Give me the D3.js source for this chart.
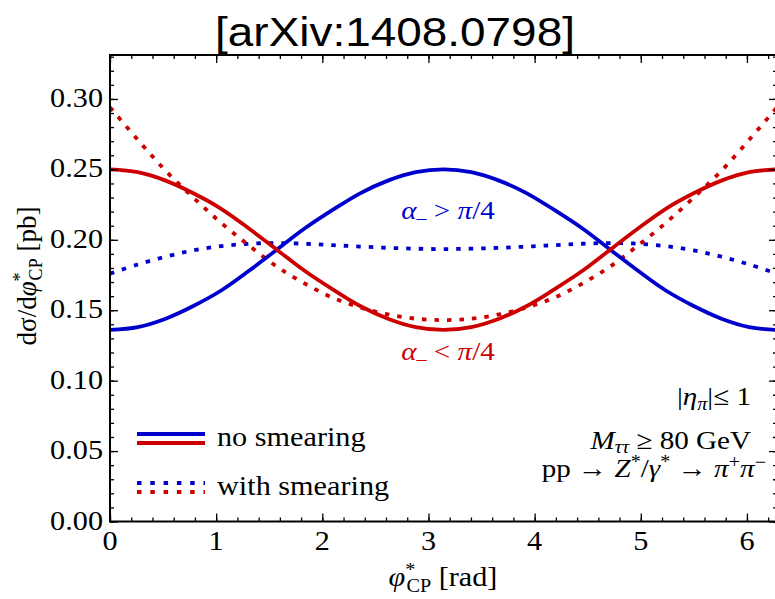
<!DOCTYPE html>
<html>
<head>
<meta charset="utf-8">
<script src="https://cdn.jsdelivr.net/npm/d3@7"></script>
<style>
  html, body { margin: 0; padding: 0; background: #fff; }
  svg { display: block; }
</style>
</head>
<body>
<svg id="chart" width="775" height="599"></svg>
<script>
// Azimuthal angle between decay planes, φ*_CP [rad]
const phi = [0, 0.262, 0.524, 0.785, 1.047, 1.309, 1.571, 1.833, 2.094, 2.356, 2.618, 2.880, 3.142,
             3.403, 3.665, 3.927, 4.189, 4.451, 4.712, 4.974, 5.236, 5.498, 5.760, 6.021, 6.283];

// dσ/dφ*_CP [pb], α− < π/4 (red) and α− > π/4 (blue)
const redNoSmear = [0.250, 0.248, 0.242, 0.233, 0.222, 0.208, 0.193, 0.178, 0.165, 0.153, 0.144, 0.138, 0.136,
                    0.138, 0.144, 0.153, 0.165, 0.178, 0.193, 0.208, 0.222, 0.233, 0.242, 0.248, 0.250];
const blueNoSmear = [0.136, 0.138, 0.144, 0.153, 0.164, 0.178, 0.193, 0.208, 0.221, 0.233, 0.242, 0.248, 0.250,
                     0.248, 0.242, 0.233, 0.221, 0.208, 0.193, 0.178, 0.164, 0.153, 0.144, 0.138, 0.136];
const redSmear = [0.294, 0.271, 0.249, 0.230, 0.212, 0.196, 0.181, 0.169, 0.159, 0.152, 0.147, 0.144, 0.143,
                  0.144, 0.147, 0.152, 0.159, 0.169, 0.181, 0.196, 0.212, 0.230, 0.249, 0.271, 0.294];
const blueSmear = [0.176, 0.1825, 0.188, 0.1925, 0.1955, 0.1972, 0.1977, 0.1972, 0.1962, 0.1952, 0.1943, 0.1937, 0.1934,
                   0.1937, 0.1943, 0.1952, 0.1962, 0.1972, 0.1977, 0.1972, 0.1955, 0.1925, 0.188, 0.1825, 0.176];

const xTicks = [0, 1, 2, 3, 4, 5, 6];
const yTicks = [0.00, 0.05, 0.10, 0.15, 0.20, 0.25, 0.30];

const BLUE = "#0000cc", RED = "#cc0000";
const SERIF = "'Liberation Serif', 'Times New Roman', serif";
const SANS = "'Liberation Sans', Arial, Helvetica, sans-serif";
const SX = 1.12; // horizontal stretch of glyphs

const svg = d3.select("#chart");
const pL = 110, pR = 777, pT = 55, pB = 521.5;

const x = d3.scaleLinear().domain([0, 2 * Math.PI]).range([pL, pR]);
const y = d3.scaleLinear().domain([0, 0.3312]).range([pB, pT]);

// curves
const line = d3.line().x((d, i) => x(phi[i])).y(d => y(d)).curve(d3.curveCatmullRom.alpha(0.5));
const plot = svg.append("g");
plot.append("clipPath").attr("id", "clip").append("rect")
  .attr("x", pL).attr("y", pT).attr("width", pR - pL).attr("height", pB - pT);
const curves = plot.append("g").attr("clip-path", "url(#clip)");

const series = [
  { v: blueSmear, c: BLUE, dash: "4.5,8" },
  { v: redSmear, c: RED, dash: "4.5,8" },
  { v: blueNoSmear, c: BLUE, dash: null },
  { v: redNoSmear, c: RED, dash: null }
];
series.forEach(s => {
  curves.append("path").attr("d", line(s.v)).attr("fill", "none")
    .attr("stroke", s.c).attr("stroke-width", 3.8)
    .attr("stroke-dasharray", s.dash);
});

// frame with inward ticks on all four sides
const frame = svg.append("g");
frame.append("rect").attr("x", pL).attr("y", pT).attr("width", pR - pL).attr("height", pB - pT)
  .attr("fill", "none").attr("stroke", "#000").attr("stroke-width", 2);

const xMinor = d3.range(0, 6.3, 0.2);
const yMinor = d3.range(0, 0.335, 0.01);
const axB = d3.axisBottom(x).tickValues(xMinor).tickSize(-4).tickFormat("");
const axT = d3.axisTop(x).tickValues(xMinor).tickSize(-4).tickFormat("");
const axL = d3.axisLeft(y).tickValues(yMinor).tickSize(-4).tickFormat("");
const axR = d3.axisRight(y).tickValues(yMinor).tickSize(-4).tickFormat("");
const axBM = d3.axisBottom(x).tickValues(xTicks).tickSize(-8).tickFormat("");
const axTM = d3.axisTop(x).tickValues(xTicks).tickSize(-8).tickFormat("");
const axLM = d3.axisLeft(y).tickValues(yTicks).tickSize(-8).tickFormat("");
const axRM = d3.axisRight(y).tickValues(yTicks).tickSize(-8).tickFormat("");
[[axB, `translate(0,${pB})`], [axT, `translate(0,${pT})`], [axL, `translate(${pL},0)`], [axR, `translate(${pR},0)`],
 [axBM, `translate(0,${pB})`], [axTM, `translate(0,${pT})`], [axLM, `translate(${pL},0)`], [axRM, `translate(${pR},0)`]]
  .forEach(([ax, tr]) => {
    const g = frame.append("g").attr("transform", tr).call(ax);
    g.select(".domain").remove();
    g.selectAll("line").attr("stroke", "#000").attr("stroke-width", 1.3);
  });

// text helpers
function label(px, py, anchor, size, color, family) {
  return svg.append("text")
    .attr("transform", `translate(${px},${py}) scale(${SX},1)`)
    .attr("text-anchor", anchor)
    .attr("font-family", family || SERIF)
    .attr("font-size", size)
    .attr("fill", color || "#000");
}
function span(t, str, o) {
  o = o || {};
  const s = t.append("tspan").text(str);
  if (o.italic) s.attr("font-style", "italic");
  if (o.size) s.attr("font-size", o.size);
  if (o.dx) s.attr("dx", o.dx);
  if (o.dy) s.attr("dy", o.dy);
  return s;
}

// tick labels
yTicks.forEach(v => label(103, y(v) + 8, "end", 27).text(d3.format(".2f")(v)));
xTicks.forEach(v => label(x(v), 550, "middle", 27).text(String(v)));

// title
label(395, 46, "middle", 41, "#000", SANS).text("[arXiv:1408.0798]");

// x axis title
{
  const t = label(443, 586, "middle", 27);
  span(t, "φ", { italic: true });
  span(t, "*", { size: 18, dy: -10 });
  span(t, "CP", { size: 18, dx: -8, dy: 16 });
  span(t, " [rad]", { dy: -6 });
}
// y axis title
{
  const t = svg.append("text")
    .attr("transform", "translate(36,276) rotate(-90)")
    .attr("text-anchor", "middle").attr("font-family", SERIF).attr("font-size", 27);
  span(t, "dσ/d");
  span(t, "φ", { italic: true });
  span(t, "*", { size: 18, dy: -10 });
  span(t, "CP", { size: 18, dx: -8, dy: 16 });
  span(t, "  [pb]", { dy: -6 });
}

// curve annotations
function alphaLabel(px, py, rel, color) {
  const t = label(px, py, "middle", 26, color);
  span(t, "α", { italic: true });
  span(t, "–", { size: 18, dy: 5 });
  span(t, " " + rel + " ", { dy: -5 });
  span(t, "π", { italic: true });
  span(t, "/4");
}
alphaLabel(448, 219, ">", BLUE);
alphaLabel(448, 360, "<", RED);

// cut annotations
{
  const t = label(751, 405, "end", 26);
  span(t, "|");
  span(t, "η", { italic: true });
  span(t, "π", { italic: true, size: 18, dy: 5 });
  span(t, "|≤ 1", { dy: -5 });
}
{
  const t = label(751, 449, "end", 26);
  span(t, "M", { italic: true });
  span(t, "ττ", { italic: true, size: 18, dy: 4 });
  span(t, " ≥ 80 GeV", { dy: -4 });
}
{
  const t = label(766, 477, "end", 26);
  span(t, "pp → ");
  span(t, "Z", { italic: true });
  span(t, "*", { size: 18, dy: -9 });
  span(t, "/", { dy: 9 });
  span(t, "γ", { italic: true });
  span(t, "*", { size: 18, dy: -9 });
  span(t, " → ", { dy: 9 });
  span(t, "π", { italic: true });
  span(t, "+", { size: 18, dy: -9 });
  span(t, "π", { italic: true, dy: 9 });
  span(t, "−", { size: 18, dy: -9 });
}

// legend
const legend = svg.append("g");
const legendRows = [
  { y: 434, c: BLUE, dash: null }, { y: 443, c: RED, dash: null },
  { y: 483, c: BLUE, dash: "4.5,8.8" }, { y: 492, c: RED, dash: "4.5,8.8" }
];
legendRows.forEach(r => legend.append("line")
  .attr("x1", 137).attr("x2", 205).attr("y1", r.y).attr("y2", r.y)
  .attr("stroke", r.c).attr("stroke-width", 3.8).attr("stroke-dasharray", r.dash));
label(217, 446, "start", 27).text("no smearing");
label(217, 495, "start", 27).text("with smearing");
</script>
</body>
</html>
